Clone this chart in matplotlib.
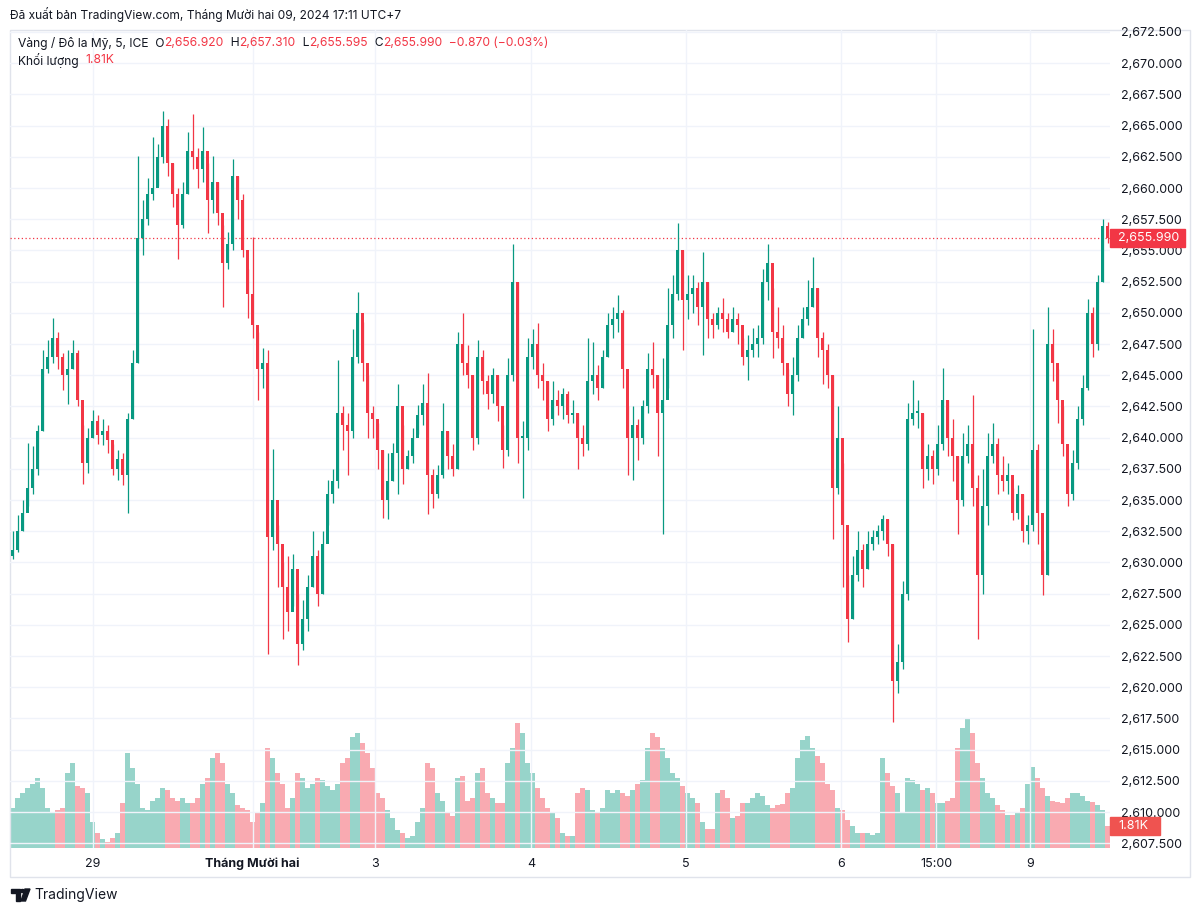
import matplotlib
matplotlib.use("Agg")
import matplotlib.pyplot as plt
from matplotlib.patches import Rectangle, Circle, Polygon
import numpy as np

# ---- data: aggregated candles (one per ~5 px of the original chart) ----
first_open = 2630.5
closes = [2631.0, 2632.5, 2634.0, 2636.0, 2637.5, 2640.5, 2645.5, 2646.5, 2648.0, 2646.5,
          2645.0, 2645.5, 2646.8, 2643.0, 2638.0, 2640.0, 2641.3, 2640.2, 2640.5, 2639.8,
          2637.5, 2638.3, 2637.0, 2641.5, 2646.0, 2656.0, 2657.5, 2659.5, 2660.0, 2662.5,
          2665.0, 2662.0, 2659.5, 2657.0, 2659.5, 2663.0, 2662.5, 2661.5, 2663.0, 2659.0,
          2660.5, 2658.0, 2654.0, 2655.5, 2661.0, 2659.0, 2655.0, 2651.5, 2649.0, 2645.5,
          2646.0, 2632.0, 2635.0, 2631.5, 2628.0, 2626.0, 2629.5, 2623.5, 2625.5, 2628.0,
          2630.5, 2627.5, 2631.5, 2635.5, 2636.5, 2642.0, 2641.0, 2640.5, 2646.5, 2650.0,
          2646.0, 2642.0, 2641.5, 2639.0, 2635.0, 2636.5, 2638.8, 2642.5, 2637.5, 2638.5,
          2640.0, 2641.8, 2642.8, 2637.0, 2635.5, 2637.0, 2640.5, 2638.5, 2637.5, 2647.5,
          2646.0, 2645.0, 2640.0, 2646.5, 2644.5, 2643.5, 2645.0, 2642.5, 2639.0, 2645.0,
          2652.5, 2640.0, 2640.0, 2646.5, 2647.5, 2645.0, 2644.5, 2641.5, 2643.0, 2642.5,
          2643.5, 2641.8, 2642.0, 2640.0, 2639.5, 2644.5, 2645.0, 2644.0, 2646.5, 2649.0,
          2649.5, 2650.0, 2645.5, 2640.0, 2641.0, 2640.0, 2642.5, 2645.5, 2645.0, 2642.0,
          2643.0, 2649.0, 2651.5, 2655.0, 2651.0, 2651.5, 2652.0, 2650.5, 2652.5, 2649.5,
          2649.0, 2650.0, 2649.5, 2648.5, 2649.5, 2649.0, 2646.5, 2647.0, 2647.5, 2648.0,
          2652.5, 2654.0, 2648.5, 2648.0, 2646.0, 2643.5, 2645.0, 2648.0, 2649.5, 2650.5,
          2652.0, 2648.0, 2647.0, 2645.0, 2636.0, 2640.0, 2633.0, 2625.5, 2629.0, 2631.0,
          2629.5, 2631.5, 2632.0, 2632.5, 2633.5, 2631.5, 2620.5, 2622.0, 2627.5, 2641.5,
          2642.0, 2642.0, 2637.5, 2638.5, 2637.5, 2639.5, 2643.0, 2640.0, 2638.5, 2635.0,
          2638.5, 2639.5, 2636.0, 2629.0, 2634.5, 2638.5, 2639.5, 2637.0, 2636.5, 2637.0,
          2634.0, 2635.5, 2632.5, 2633.0, 2639.0, 2634.0, 2629.0, 2647.5, 2646.0, 2643.0,
          2639.5, 2635.5, 2638.0, 2641.5, 2644.0, 2650.0, 2647.5, 2652.5, 2656.92, 2655.99]
highs = [2632.5, 2633.8, 2635.0, 2639.6, 2639.3, 2641.0, 2647.0, 2647.8, 2649.6, 2648.5,
         2646.8, 2647.0, 2647.8, 2647.0, 2641.0, 2640.8, 2642.2, 2641.8, 2641.5, 2641.0,
         2639.5, 2639.0, 2638.8, 2642.0, 2647.0, 2662.6, 2659.0, 2660.8, 2664.1, 2663.5,
         2666.2, 2665.5, 2662.0, 2660.0, 2660.5, 2664.5, 2665.9, 2663.2, 2664.9, 2662.0,
         2662.6, 2660.5, 2657.0, 2656.5, 2662.3, 2661.0, 2659.5, 2653.5, 2656.1, 2648.5,
         2647.2, 2647.0, 2639.1, 2633.0, 2630.0, 2630.5, 2630.7, 2627.5, 2627.0, 2629.0,
         2632.5, 2631.0, 2632.5, 2636.6, 2637.5, 2646.2, 2642.5, 2642.0, 2648.7, 2651.7,
         2649.3, 2645.0, 2642.5, 2641.2, 2639.0, 2638.8, 2639.6, 2644.3, 2641.0, 2639.0,
         2640.8, 2642.6, 2644.3, 2645.2, 2637.5, 2637.8, 2642.8, 2640.5, 2639.5, 2648.5,
         2650.0, 2647.4, 2645.0, 2647.8, 2647.0, 2645.0, 2645.6, 2645.0, 2641.0, 2646.4,
         2655.5, 2652.5, 2641.3, 2648.0, 2648.7, 2649.2, 2646.0, 2644.5, 2644.5, 2643.8,
         2644.0, 2643.7, 2643.0, 2642.0, 2641.0, 2648.0, 2647.7, 2645.8, 2647.0, 2650.0,
         2650.5, 2651.4, 2650.2, 2642.5, 2642.5, 2641.5, 2643.0, 2646.8, 2647.7, 2645.0,
         2646.4, 2652.0, 2653.0, 2657.2, 2655.0, 2653.0, 2653.0, 2652.5, 2654.9, 2652.5,
         2650.0, 2650.5, 2651.2, 2650.0, 2650.5, 2650.0, 2648.0, 2648.2, 2648.8, 2649.0,
         2653.5, 2655.5, 2652.0, 2650.5, 2649.0, 2645.5, 2646.5, 2649.0, 2650.5, 2652.6,
         2654.5, 2652.0, 2648.5, 2647.5, 2645.0, 2642.5, 2638.0, 2629.0, 2630.5, 2632.5,
         2631.5, 2632.5, 2632.6, 2633.0, 2633.8, 2633.5, 2631.5, 2623.5, 2628.5, 2642.8,
         2644.6, 2643.0, 2642.0, 2639.5, 2639.0, 2641.0, 2645.6, 2643.0, 2641.5, 2638.5,
         2640.4, 2641.0, 2643.4, 2637.0, 2637.5, 2640.4, 2641.2, 2640.0, 2638.5, 2638.0,
         2636.0, 2636.2, 2635.5, 2633.8, 2648.7, 2639.5, 2631.0, 2650.5, 2648.7, 2645.5,
         2642.5, 2637.5, 2639.0, 2642.5, 2645.0, 2651.1, 2650.5, 2653.0, 2657.5, 2657.31]
lows = [2630.3, 2630.8, 2632.5, 2634.5, 2635.5, 2637.0, 2640.5, 2645.2, 2646.0, 2645.5,
        2643.8, 2642.7, 2645.5, 2642.5, 2636.3, 2637.2, 2640.0, 2639.5, 2639.4, 2638.8,
        2637.0, 2636.6, 2636.2, 2634.0, 2641.5, 2646.0, 2654.6, 2657.0, 2659.0, 2660.2,
        2662.0, 2661.0, 2658.5, 2654.3, 2656.8, 2659.5, 2661.5, 2660.0, 2660.5, 2656.4,
        2658.0, 2657.0, 2650.5, 2653.5, 2655.0, 2657.5, 2654.5, 2649.6, 2648.0, 2643.0,
        2644.0, 2622.7, 2631.0, 2628.0, 2623.9, 2624.5, 2626.5, 2621.8, 2623.0, 2624.5,
        2628.0, 2626.5, 2627.5, 2633.0, 2634.8, 2636.0, 2639.0, 2637.0, 2640.0, 2646.0,
        2644.5, 2640.0, 2640.0, 2637.5, 2633.6, 2633.5, 2636.5, 2635.5, 2636.3, 2637.5,
        2638.0, 2640.3, 2641.0, 2633.9, 2634.4, 2635.2, 2636.8, 2637.5, 2636.9, 2637.5,
        2645.0, 2644.0, 2639.0, 2639.5, 2643.5, 2642.3, 2642.8, 2641.3, 2637.6, 2638.5,
        2644.5, 2638.0, 2635.2, 2639.0, 2645.5, 2644.0, 2643.0, 2640.5, 2641.0, 2641.8,
        2641.5, 2641.2, 2641.2, 2637.5, 2638.5, 2639.0, 2643.5, 2643.0, 2644.0, 2646.5,
        2648.0, 2648.5, 2644.0, 2637.0, 2636.6, 2638.2, 2639.5, 2642.0, 2644.0, 2638.5,
        2632.3, 2644.0, 2648.0, 2651.0, 2647.0, 2649.5, 2650.0, 2649.0, 2646.6, 2648.0,
        2648.0, 2648.7, 2648.5, 2648.0, 2648.5, 2647.5, 2645.8, 2644.6, 2646.5, 2646.5,
        2647.5, 2651.0, 2646.4, 2647.2, 2645.0, 2642.5, 2641.8, 2644.5, 2648.0, 2649.0,
        2650.5, 2646.5, 2644.3, 2644.0, 2631.9, 2635.5, 2628.0, 2623.6, 2625.5, 2628.5,
        2628.0, 2629.5, 2631.0, 2631.5, 2631.8, 2630.5, 2617.2, 2619.5, 2621.5, 2627.0,
        2641.0, 2640.8, 2636.0, 2636.6, 2636.3, 2637.0, 2639.0, 2638.5, 2636.5, 2632.3,
        2634.5, 2638.0, 2634.5, 2623.9, 2627.5, 2633.0, 2638.0, 2635.5, 2635.7, 2635.5,
        2633.4, 2633.5, 2631.6, 2631.5, 2632.5, 2631.5, 2627.4, 2629.0, 2644.5, 2641.2,
        2638.5, 2634.5, 2635.0, 2637.5, 2641.0, 2643.8, 2646.5, 2647.0, 2652.5, 2655.595]
volumes = [3.3, 4.1, 4.5, 4.9, 5.3, 5.8, 4.9, 3.3, 2.9, 3.1,
           3.3, 6.2, 7.0, 5.1, 4.9, 4.5, 2.1, 1.2, 0.7, 0.5,
           0.8, 1.2, 3.7, 7.8, 6.6, 5.3, 3.3, 3.1, 3.9, 4.1,
           4.9, 4.8, 4.1, 3.9, 4.1, 3.7, 3.7, 4.1, 5.3, 5.8,
           7.4, 7.8, 7.0, 5.3, 4.5, 3.5, 3.3, 3.1, 2.1, 2.9,
           3.7, 8.2, 7.4, 6.2, 5.3, 3.3, 4.1, 6.2, 5.8, 4.9,
           5.3, 5.8, 5.6, 5.1, 4.8, 5.3, 7.0, 7.4, 9.1, 9.5,
           8.6, 7.8, 6.6, 4.5, 4.1, 3.1, 2.5, 1.5, 1.2, 0.8,
           1.0, 2.1, 3.3, 7.0, 6.6, 4.5, 3.9, 2.9, 2.6, 5.8,
           5.9, 3.9, 4.1, 6.2, 6.6, 4.5, 4.1, 3.7, 3.7, 7.0,
           8.2, 10.3, 9.5, 7.0, 6.2, 4.9, 4.1, 3.3, 3.0, 2.5,
           1.2, 1.0, 1.0, 4.5, 4.9, 4.8, 3.1, 2.9, 3.3, 4.8,
           4.5, 4.8, 4.5, 4.3, 4.8, 5.3, 5.6, 8.2, 9.5, 9.1,
           8.2, 7.4, 6.2, 5.8, 5.1, 4.5, 4.1, 3.7, 2.1, 1.6,
           1.6, 4.5, 4.8, 4.1, 2.5, 2.6, 3.7, 3.7, 4.1, 4.5,
           4.3, 3.5, 3.3, 3.5, 3.6, 4.5, 4.9, 7.4, 8.9, 9.2,
           8.2, 7.6, 7.0, 5.3, 4.8, 3.3, 3.1, 2.3, 1.8, 1.2,
           1.2, 1.2, 1.1, 1.2, 7.4, 6.2, 5.1, 4.5, 2.9, 5.8,
           5.6, 5.3, 4.8, 4.9, 4.5, 3.7, 3.7, 3.9, 4.1, 8.2,
           9.9, 10.7, 9.5, 7.0, 5.8, 4.5, 4.1, 3.5, 3.1, 2.7,
           2.7, 3.0, 3.3, 5.3, 6.7, 5.8, 4.9, 4.3, 3.9, 3.8,
           3.7, 4.1, 4.5, 4.5, 4.3, 3.9, 3.8, 3.5, 3.1, 1.81]

price_ticks = [2607.5 + 2.5 * k for k in range(27)]
time_pos = [16, 48, 72.5, 103.7, 134.7, 165.7, 184.7, 203.5]
time_labels = ["29", "Tháng Mười hai", "3", "4", "5", "6", "15:00", "9"]
last_price = 2655.99
last_volume = 1.81

UP = "#089981"
DOWN = "#F23645"
TXT = "#131722"
GRID = "#f0f3fa"
FONT = ["Inter", "DejaVu Sans"]
plt.rcParams["font.family"] = FONT

W, H = 1200, 913
fig = plt.figure(figsize=(W / 100, H / 100), dpi=100)
fig.patch.set_facecolor("white")

# axes box in pixel terms: left 10, right 1110, top 30, bottom 848
ax = fig.add_axes([10 / W, (H - 848) / H, 1100 / W, 818 / H])
axv = ax.twinx()
axv.set_zorder(0)
ax.set_zorder(1)
ax.patch.set_visible(False)

n = len(closes)
idx = np.arange(n)
opens = [first_open] + closes[:-1]
up = [c >= o for o, c in zip(opens, closes)]

# volume
vcol = [UP if u else DOWN for u in up]
axv.bar(idx, volumes, width=0.9, color=vcol, alpha=0.42, linewidth=0)
axv.set_ylim(0, 67.3)
axv.set_yticks([])
for s in axv.spines.values():
    s.set_visible(False)

# candles
ccol = [UP if u else DOWN for u in up]
ax.vlines(idx, lows, highs, colors=ccol, linewidth=0.9, zorder=3)
body_lo = [min(o, c) for o, c in zip(opens, closes)]
body_h = [max(abs(c - o), 0.12) for o, c in zip(opens, closes)]
ax.bar(idx, body_h, bottom=body_lo, width=0.5, color=ccol, linewidth=0, zorder=4)

ax.set_xlim(-0.5, 219.5)
ax.set_ylim(2607.12, 2672.66)
ax.axhline(last_price, color=DOWN, linestyle=(0, (1, 2)), linewidth=0.9, zorder=2)

ax.set_yticks(price_ticks)
ax.set_yticklabels([f"{p:,.3f}" for p in price_ticks])
ax.yaxis.tick_right()
ax.tick_params(axis="y", length=0, pad=8, labelsize=9, labelcolor=TXT)
ax.set_xticks(time_pos)
ax.set_xticklabels(time_labels)
ax.tick_params(axis="x", length=0, pad=7, labelsize=9, labelcolor=TXT)
for t in ax.get_xticklabels():
    if t.get_text() == "Tháng Mười hai":
        t.set_fontweight("bold")
ax.grid(True, color=GRID, linewidth=1)
ax.set_axisbelow(True)
for s in ax.spines.values():
    s.set_visible(False)

# outer frame
fig.add_artist(Rectangle((10 / W, (H - 877) / H), 1180 / W, 847 / H,
                         transform=fig.transFigure, fill=False,
                         edgecolor="#e0e3eb", linewidth=1))

# price / volume tags on the axis
fig.canvas.draw()
py = ax.transData.transform((0, last_price))[1]
fig.add_artist(Rectangle((1110 / W, (py - 9) / H), 75 / W, 18 / H,
                         transform=fig.transFigure, color=DOWN, zorder=5))
fig.text(1118 / W, py / H, f"{last_price:,.3f}", color="white", fontsize=9,
         va="center", ha="left", zorder=6)
vy = axv.transData.transform((0, last_volume))[1]
fig.add_artist(Rectangle((1110 / W, (vy - 9) / H), 50 / W, 18 / H,
                         transform=fig.transFigure, color="#ef5350", zorder=5))
fig.text(1118 / W, vy / H, f"{last_volume}K", color="white", fontsize=9,
         va="center", ha="left", zorder=6)

# header texts
renderer = fig.canvas.get_renderer()


def text_run(x, y, parts, size):
    for s, c in parts:
        t = fig.text(x / W, 1 - y / H, s, color=c, fontsize=size, va="center", ha="left")
        x += t.get_window_extent(renderer=renderer).width


fig.text(10 / W, 1 - 14 / H, "Đã xuất bản TradingView.com, Tháng Mười hai 09, 2024 17:11 UTC+7",
         color=TXT, fontsize=8.6, va="center", ha="left")
text_run(18, 43, [("Vàng / Đô la Mỹ, 5, ICE  O", TXT), ("2,656.920", DOWN),
                  ("  H", TXT), ("2,657.310", DOWN), ("  L", TXT), ("2,655.595", DOWN),
                  ("  C", TXT), ("2,655.990", DOWN), ("  −0.870 (−0.03%)", DOWN)], 8.7)
text_run(18, 60, [("Khối lượng  ", TXT), ("1.81K", DOWN)], 8.7)

# TradingView logo + wordmark
def px(x, y):
    return (x / W, 1 - y / H)

fig.add_artist(Polygon([px(11, 889), px(20, 889), px(20, 901), px(16, 901), px(16, 893), px(11, 893)],
                       closed=True, transform=fig.transFigure, color=TXT))
fig.add_artist(Circle(px(22.5, 891), 2 / W, transform=fig.transFigure, color=TXT))
fig.add_artist(Polygon([px(25, 889), px(30, 889), px(25.5, 901), px(21, 901)],
                       closed=True, transform=fig.transFigure, color=TXT))
fig.text(34 / W, 1 - 895 / H, "TradingView", color=TXT, fontsize=10, va="center", ha="left")

fig.savefig("out.png", dpi=100)
